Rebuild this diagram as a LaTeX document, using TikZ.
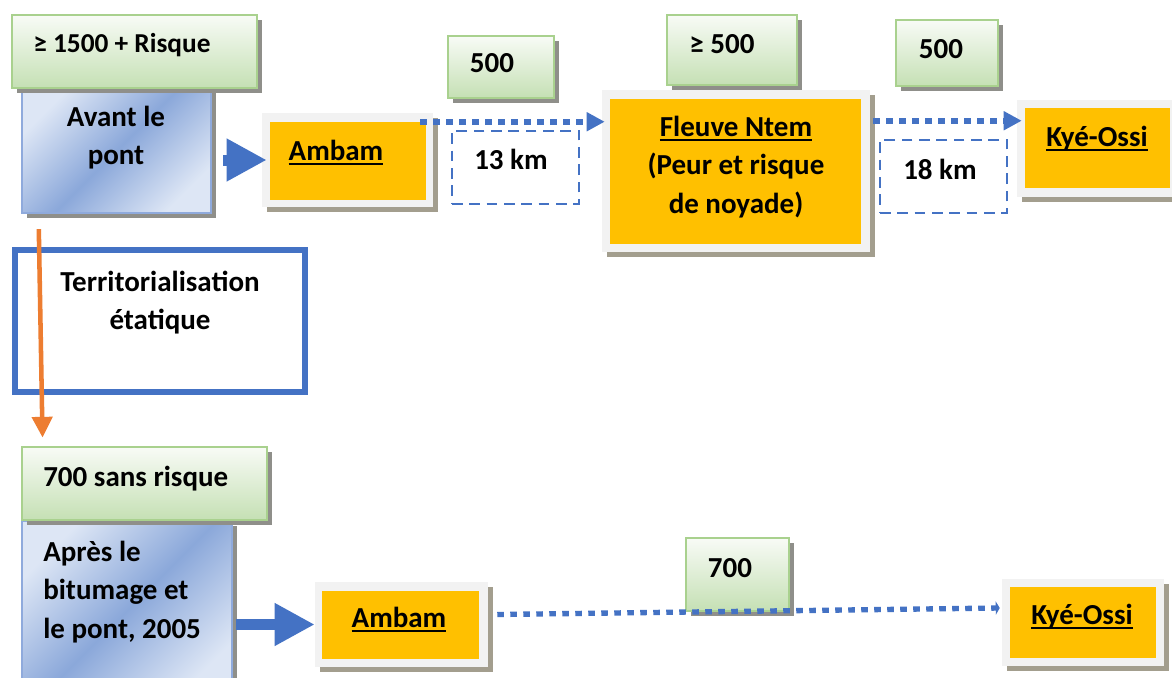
\documentclass[tikz,border=0pt]{standalone}
\usepackage{fontspec}
\setmainfont{Carlito}
\usetikzlibrary{arrows.meta,shadows,fit,calc}
\definecolor{org}{HTML}{FFC000}
\definecolor{frm}{HTML}{F2F2F2}
\definecolor{shd}{HTML}{A39E8E}
\definecolor{gshd}{HTML}{8F8F8A}
\definecolor{gbd}{HTML}{A9D18E}
\definecolor{gtop}{HTML}{F8FBF6}
\definecolor{gbot}{HTML}{C5E0B4}
\definecolor{bbd}{HTML}{8FAADC}
\definecolor{bl}{HTML}{DDE6F5}
\definecolor{bd}{HTML}{8BA8DA}
\definecolor{acc}{HTML}{4472C4}
\definecolor{oarr}{HTML}{ED7D31}
\newsavebox\ulbx
\newcommand\myul[1]{\leavevmode\sbox\ulbx{#1}\rlap{\rule[-3.4pt]{\wd\ulbx}{1.5pt}}\usebox\ulbx}
\newcommand\ctrlines[1]{\parbox[t]{220pt}{\centering #1}}
\newcommand\leftlines[1]{\parbox[t]{160pt}{\raggedright #1}}
\tikzset{
 txt/.style={font=\bfseries\fontsize{21.75}{29}\selectfont, inner sep=0pt},
 shadowed/.style={drop shadow={shadow xshift=3.5pt, shadow yshift=-3.5pt, fill=#1, opacity=1}},
 gbox/.style={inner sep=0pt, draw=gbd, line width=2.2pt, top color=gtop, bottom color=gbot, shadowed=gshd},
 bbox/.style={inner sep=0pt, draw=bbd, line width=1.8pt, top color=bl, bottom color=bl, middle color=bd, shading angle=45, shadowed=gshd},
 obox/.style={inner sep=0pt, fill=frm, shadowed=shd},
 oin/.style={inner sep=0pt, fill=org},
 dbox/.style={inner sep=0pt, draw=acc, line width=1.8pt, dash pattern=on 8pt off 5pt, fill=white},
 dotarr/.style={draw=acc, line width=4.2pt, dash pattern=on 5pt off 4.75pt, -{Triangle[length=13.5pt,width=13.5pt]}},
 dotarrb/.style={draw=acc, line width=4pt, dash pattern=on 5pt off 4.75pt, -{Triangle[length=3pt,width=10pt]}},
 blockarr/.style={draw=acc, line width=8.25pt, -{Triangle[length=30pt,width=30pt]}},
 oarrow/.style={draw=oarr, line width=3.4pt, -{Triangle[length=15.5pt,width=15pt]}},
}
\begin{document}
\begin{tikzpicture}[x=0.75pt, y=-0.75pt]
\clip (0,0) rectangle (1172,678);
\fill[white] (0,0) rectangle (1172,678);
% ---- top row
\node[bbox, fit={(22,88) (211,213)}] (avant) {};
\node[gbox, fit={(12,15) (257,88)}] (g1) {};
\node[txt, anchor=base west, font=\bfseries\fontsize{20.5}{29}\selectfont] (t1) at (33,52) {≥ 1500 + Risque};
\node[txt, anchor=base] (tavant) at (116,126) {\ctrlines{Avant le\\pont}};

\node[obox, fit={(262,113) (433,207)}] (ambam) {};
\node[oin, fit={(270,122) (426,200)}] (ambamin) {};
\node[txt, anchor=base] (tambam) at (336,160) {\myul{Ambam}};

\node[dbox, fit={(452,131) (579,204)}] (d13) {};
\node[txt, anchor=base] (t13) at (511,169) {13 km};

\node[gbox, fit={(448,36) (554,98)}] (g2) {};
\node[txt, anchor=base] (t2) at (492,72) {500};

\node[obox, fit={(602,90) (870,252)}] (fleuve) {};
\node[oin, fit={(610,99) (861,244)}] (fleuvein) {};
\node[txt, anchor=base] (tfleuve) at (736,136) {\ctrlines{\myul{Fleuve Ntem}\\(Peur et risque\\de noyade)}};

\node[gbox, fit={(667,15) (797,85)}] (g3) {};
\node[txt, anchor=base] (t3) at (722,53) {≥ 500};

\node[gbox, fit={(896,20) (998,86)}] (g4) {};
\node[txt, anchor=base] (t4) at (941,58) {500};

\node[dbox, fit={(880,140) (1007,213)}] (d18) {};
\node[txt, anchor=base] (t18) at (940,179) {18 km};

\node[obox, fit={(1017,100) (1180,197)}] (kye) {};
\node[oin, fit={(1025,108) (1170,188)}] (kyein) {};
\node[txt, anchor=base] (tkye) at (1097,146) {\myul{Kyé-Ossi}};

% ---- middle
\node[inner sep=0pt, draw=acc, line width=4.5pt, fit={(15,250) (305,392)}] (terr) {};
\node[txt, anchor=base] (tterr) at (160,291) {\ctrlines{Territorialisation\\étatique}};

% ---- bottom row
\node[bbox, fit={(22,521) (232,700)}] (apres) {};
\node[gbox, fit={(22,447) (267,520)}] (g5) {};
\node[txt, anchor=base west] (t5) at (43,486) {700 sans risque};
\node[txt, anchor=base west] (tapres) at (43,561) {\leftlines{Après le\\bitumage et\\le pont, 2005}};

\node[obox, fit={(315,582) (488,667)}] (ambam2) {};
\node[oin, fit={(322,591) (479,659)}] (ambam2in) {};
\node[txt, anchor=base] (tambam2) at (399,627) {\myul{Ambam}};

\node[obox, fit={(1002,579) (1164,666)}] (kye2) {};
\node[oin, fit={(1010,587) (1156,658)}] (kye2in) {};
\node[txt, anchor=base] (tkye2) at (1082,624) {\myul{Kyé-Ossi}};

\node[gbox, fit={(686,538) (789,611)}] (g6) {};
\node[txt, anchor=base] (t6) at (730,577) {700};

% ---- connectors
\draw[blockarr] ($(avant.east |- ambam.west)+(11,0)$) -- ($(ambam.west)+(5,0)$);
\draw[dotarr] ($(ambam.north east)+(-13,9)$) -- ($(fleuve.north west)+(3,32)$);
\draw[dotarr] ($(fleuve.north east)+(3,31)$) -- ($(kye.north west)+(5,21)$);
\draw[oarrow] ($(avant.south west)+(18,15)$) -- ($(g5.north west)+(22,-8)$);
\draw[blockarr] ($(apres.east |- ambam2.west)+(3,0)$) -- (ambam2.west);
\draw[dotarrb] ($(ambam2.east)+(9,-10)$) -- ($(kye2.west)+(-2,-14.5)$);
\end{tikzpicture}
\end{document}
